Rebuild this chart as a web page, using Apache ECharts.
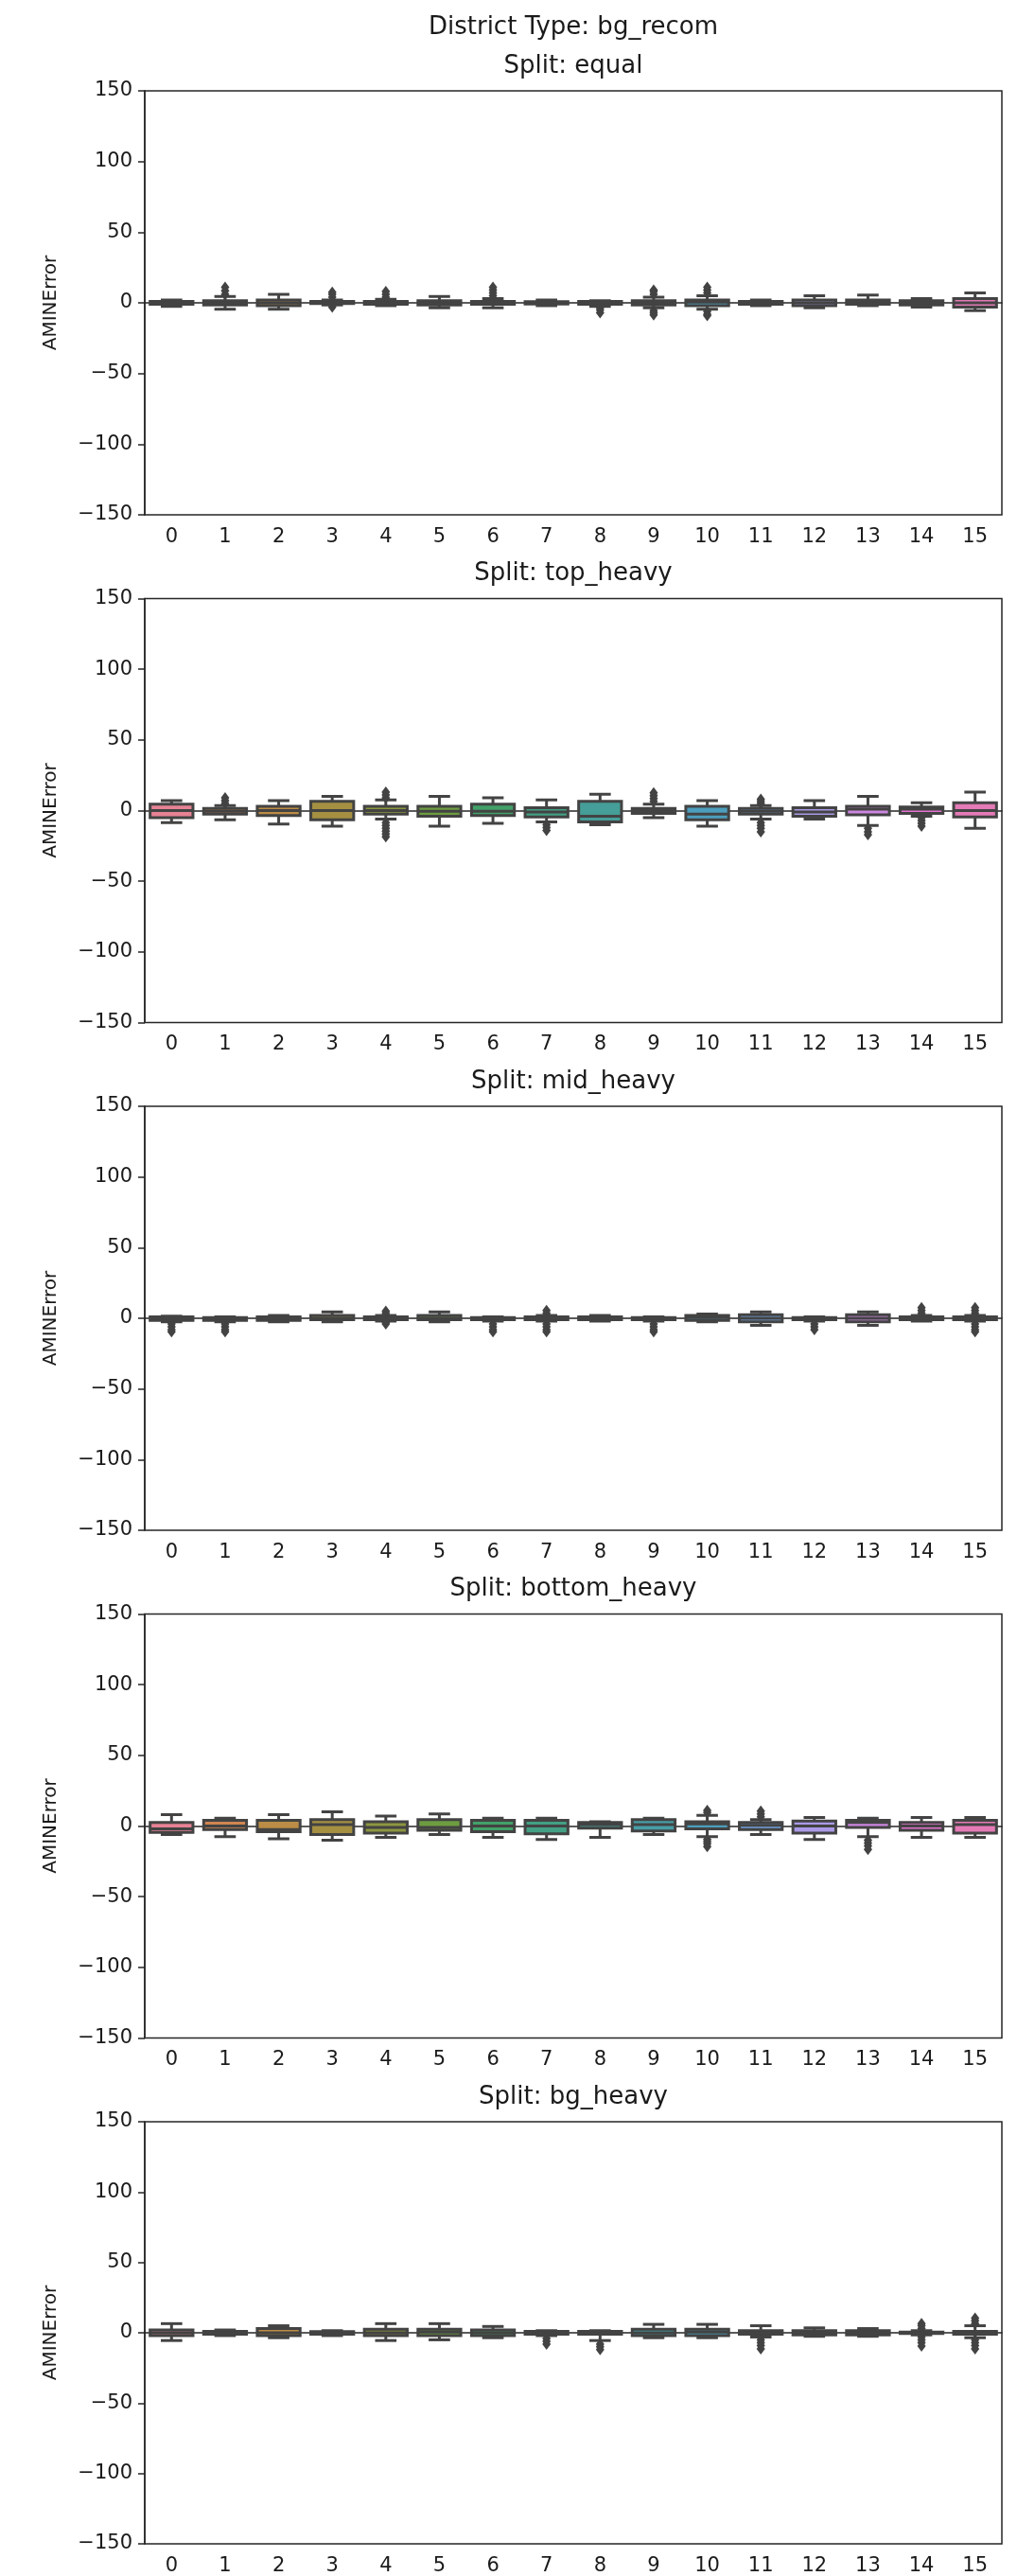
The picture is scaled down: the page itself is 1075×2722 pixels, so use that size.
<!DOCTYPE html>
<html>
<head>
<meta charset="utf-8">
<title>AMINError by district</title>
<script src="https://cdn.jsdelivr.net/npm/echarts@6.0.0/dist/echarts.min.js"></script>
<style>
  html, body { margin: 0; padding: 0; background: #fff; }
  #chart { width: 1075px; height: 2722px; }
</style>
</head>
<body>
<div id="chart"></div>
<script>
// ---- data -------------------------------------------------------------
const categories = ['0','1','2','3','4','5','6','7','8','9','10','11','12','13','14','15'];
const splits = ['equal', 'top_heavy', 'mid_heavy', 'bottom_heavy', 'bg_heavy'];
const yTicks = [-150, -100, -50, 0, 50, 100, 150];

// per category: [lower whisker, Q1, median, Q3, upper whisker]
const equalStats = [
  [-2.5, -1, 0, 1, 2], [-4.5, -1.5, 0, 1.5, 4.5], [-4.5, -2, 0, 2, 6], [-1.5, -0.5, 0, 1, 2],
  [-2, -1, 0, 1, 2.5], [-3.5, -1.5, 0, 1.5, 4.5], [-3.5, -1, 0, 1, 3], [-2, -0.8, 0, 0.8, 2],
  [-2.5, -1, 0, 1, 1.5], [-3.5, -1.5, 0, 1.5, 4], [-4.5, -2, 0.5, 2, 5], [-2, -1, 0, 1, 2],
  [-3.5, -2, 0, 2, 5], [-2, -1, 1, 2, 5.5], [-3, -1.5, 0, 1.5, 3], [-5.5, -3, 0, 3, 7]
];
// outliers: [category, value]
const equalFliers = [
  [1, 6], [1, 8.5], [1, 11], [3, 4], [3, 6], [3, 7.5], [3, -3], [4, 4], [4, 6], [4, 8],
  [6, 5], [6, 7], [6, 9], [6, 11], [8, -3.5], [8, -5], [8, -7],
  [9, 6], [9, 8], [9, 9], [9, -5.5], [9, -7], [9, -8.5],
  [10, 7], [10, 9], [10, 11], [10, -6], [10, -8], [10, -9]
];

const topHeavyStats = [
  [-8.5, -5, 0, 4.5, 7], [-6.5, -2.5, -0.5, 1.5, 3.5], [-9.5, -3.5, 0, 3, 7], [-11, -6.5, 0, 6.5, 10],
  [-6, -2.5, 0, 3, 7.5], [-11, -4, -0.5, 3, 10], [-9, -3.5, -0.5, 4.5, 9], [-8, -4.5, -1, 2, 7.5],
  [-10, -8, -4, 6.5, 11.5], [-5, -2, 0, 1.5, 4.5], [-11, -6.5, -2.5, 3, 7], [-6, -2.5, -0.5, 1.5, 3.5],
  [-6, -4, -1, 2, 7], [-10.5, -3, 1, 3, 10], [-4, -2, 1, 2.5, 5.5], [-12.5, -4.5, 0, 5.5, 13]
];
const topHeavyFliers = [
  [1, 5], [1, 7], [1, 9],
  [4, 9], [4, 11], [4, 13], [4, -8.5], [4, -10.5], [4, -12.5], [4, -14.5], [4, -16.5], [4, -18.5],
  [7, -10], [7, -12], [7, -14],
  [9, 6.5], [9, 8.5], [9, 10.5], [9, 12.5],
  [11, 5], [11, 6.5], [11, 8], [11, -8.5], [11, -10.5], [11, -12.5], [11, -15],
  [13, -12.5], [13, -15], [13, -17],
  [14, -5], [14, -7], [14, -9], [14, -11]
];

const midHeavyStats = [
  [-2.5, -1.5, 0, 1, 1.5], [-2.5, -1.5, 0, 0.5, 1], [-2.5, -1.5, 0, 1, 2], [-2.5, -1, 0, 2, 4.5],
  [-2, -1, 0, 1, 2], [-2.5, -1, 0, 2, 4.5], [-2, -1, 0, 0.5, 1], [-2, -1, 0, 1, 2],
  [-2, -1, 0, 1, 2], [-2, -1, 0, 0.5, 1], [-2.5, -1.5, 0.5, 2, 3], [-5, -2.5, 0, 2.5, 4.5],
  [-2, -1, 0, 0.5, 1], [-5, -2.5, 0, 2.5, 4.5], [-2, -1, 0, 1, 2], [-2, -1, 0, 1, 2]
];
const midHeavyFliers = [
  [0, -4], [0, -6], [0, -8], [0, -9.5], [1, -4], [1, -6], [1, -8], [1, -9.5],
  [4, 3.5], [4, 5], [4, -3], [4, -4],
  [6, -4], [6, -6], [6, -8], [6, -9.5],
  [7, 3.5], [7, 5.5], [7, -4], [7, -6], [7, -8], [7, -9.5],
  [9, -4], [9, -6], [9, -8], [9, -9.5],
  [12, -4], [12, -6], [12, -8],
  [14, 3.5], [14, 5.5], [14, 7.5],
  [15, 3.5], [15, 5.5], [15, 7.5], [15, -4], [15, -6], [15, -8], [15, -9.5]
];

const bottomHeavyStats = [
  [-6, -4.5, -2, 2.5, 8], [-7.5, -2.5, 0, 4, 5.5], [-9, -4, -2.5, 4, 8], [-10, -6, 1, 4.5, 10],
  [-8, -5, -1, 3, 7], [-6, -3, -1, 4.5, 8.5], [-8, -4, 0, 4, 5.5], [-9.5, -5.5, 0, 4, 5.5],
  [-8, -1.5, 1, 2.5, 3], [-6, -3.5, 1, 4.5, 5.5], [-7.5, -2, 1.5, 3, 7.5], [-6, -2.5, 0.5, 2.5, 4.5],
  [-9.5, -5, 0, 3.5, 6], [-7.5, -1, 2.5, 4, 5.5], [-8, -3, 0, 2.5, 6], [-8, -5, 1, 4, 6]
];
const bottomHeavyFliers = [
  [10, 9.5], [10, 11], [10, -9.5], [10, -11], [10, -12.5], [10, -14.5],
  [11, 6.5], [11, 8.5], [11, 10.5],
  [13, -10], [13, -12], [13, -14], [13, -16.5]
];

const bgHeavyStats = [
  [-5.5, -2, 0, 2, 6.5], [-2, -1, 0, 1, 2], [-3.5, -2, 0, 3, 5], [-2, -1, 0, 0.8, 1.5],
  [-5.5, -2, 0, 2.5, 6.5], [-5, -2, 0.5, 2.5, 6.5], [-3.5, -2, 0, 2, 4.5], [-2, -1, 0, 1, 1.5],
  [-5.5, -1, 0, 1, 1.5], [-3.5, -2, 0, 2.5, 6], [-3.5, -2, 0.5, 2.5, 6], [-3, -1, 0, 1.5, 5],
  [-2.5, -1.5, 0, 1.5, 3.5], [-2.5, -1.5, 0, 1.5, 3], [-1.5, -0.5, 0, 0.5, 1.5], [-3.5, -1, 0, 1, 5]
];
const bgHeavyFliers = [
  [7, -4], [7, -6], [7, -8],
  [8, -8], [8, -10], [8, -12],
  [11, -5], [11, -7], [11, -9], [11, -11.5],
  [14, 3], [14, 5], [14, 6.5], [14, -3], [14, -5], [14, -7], [14, -9.5],
  [15, 6.5], [15, 8.5], [15, 10.5], [15, -5], [15, -7], [15, -9], [15, -11.5]
];

const panelStats = [equalStats, topHeavyStats, midHeavyStats, bottomHeavyStats, bgHeavyStats];
const panelFliers = [equalFliers, topHeavyFliers, midHeavyFliers, bottomHeavyFliers, bgHeavyFliers];

// ---- styling ----------------------------------------------------------
// 16-step husl palette, then desaturated to 75% like seaborn box fills
const basePalette = [
  '#f77189', '#e7823a', '#ce9032', '#b69a31', '#97a431', '#6dac31', '#32b166', '#34af8a',
  '#36ada4', '#37abb7', '#39a7d0', '#5f9fec', '#a48cf4', '#d478ef', '#f561dd', '#f668b8'
];
function desaturate(hex, prop) {
  const r = parseInt(hex.slice(1, 3), 16) / 255;
  const g = parseInt(hex.slice(3, 5), 16) / 255;
  const b = parseInt(hex.slice(5, 7), 16) / 255;
  const mx = Math.max(r, g, b), mn = Math.min(r, g, b);
  const l = (mx + mn) / 2;
  let h = 0, s = 0;
  if (mx !== mn) {
    const d = mx - mn;
    s = l <= 0.5 ? d / (mx + mn) : d / (2 - mx - mn);
    const rc = (mx - r) / d, gc = (mx - g) / d, bc = (mx - b) / d;
    if (r === mx) h = bc - gc;
    else if (g === mx) h = 2 + rc - bc;
    else h = 4 + gc - rc;
    h = ((h / 6) % 1 + 1) % 1;
  }
  s *= prop;
  const m2 = l <= 0.5 ? l * (1 + s) : l + s - l * s;
  const m1 = 2 * l - m2;
  function v(hh) {
    hh = ((hh % 1) + 1) % 1;
    if (hh < 1 / 6) return m1 + (m2 - m1) * hh * 6;
    if (hh < 0.5) return m2;
    if (hh < 2 / 3) return m1 + (m2 - m1) * (2 / 3 - hh) * 6;
    return m1;
  }
  const out = s === 0 ? [l, l, l] : [v(h + 1 / 3), v(h), v(h - 1 / 3)];
  return '#' + out.map(c => Math.round(c * 255).toString(16).padStart(2, '0')).join('');
}
const boxColors = basePalette.map(c => desaturate(c, 0.75));
const lineGray = '#434343';
const textColor = '#1a1a1a';
const spineColor = '#262626';
const fontFamily = 'DejaVu Sans';
const tickFont = 21, titleFont = 26, labelFont = 20;

const gridLeft = 153, gridWidth = 906, gridHeight = 448, firstTop = 96, panelStep = 536.5;

function minusSign(v) { return String(v).replace('-', '\u2212'); }

function renderBox(params, api) {
  const xi = api.value(0);
  const pLo = api.coord([xi, api.value(1)]);
  const pQ1 = api.coord([xi, api.value(2)]);
  const pMed = api.coord([xi, api.value(3)]);
  const pQ3 = api.coord([xi, api.value(4)]);
  const pHi = api.coord([xi, api.value(5)]);
  const band = api.size([1, 0])[0];
  const w = band * 0.8, cw = w / 2, cx = pLo[0];
  const ls = { stroke: lineGray, lineWidth: 3 };
  return {
    type: 'group',
    children: [
      { type: 'line', shape: { x1: cx, y1: pQ1[1], x2: cx, y2: pLo[1] }, style: ls },
      { type: 'line', shape: { x1: cx, y1: pQ3[1], x2: cx, y2: pHi[1] }, style: ls },
      { type: 'line', shape: { x1: cx - cw / 2, y1: pLo[1], x2: cx + cw / 2, y2: pLo[1] }, style: ls },
      { type: 'line', shape: { x1: cx - cw / 2, y1: pHi[1], x2: cx + cw / 2, y2: pHi[1] }, style: ls },
      { type: 'rect', shape: { x: cx - w / 2, y: pQ3[1], width: w, height: pQ1[1] - pQ3[1] },
        style: { fill: boxColors[xi], stroke: lineGray, lineWidth: 3 } },
      { type: 'line', shape: { x1: cx - w / 2, y1: pMed[1], x2: cx + w / 2, y2: pMed[1] }, style: ls }
    ]
  };
}

const grids = [], xAxes = [], yAxes = [], series = [], texts = [];
const centerX = gridLeft + gridWidth / 2;
texts.push({
  type: 'text', x: centerX, y: 29,
  style: { text: 'District Type: bg_recom', align: 'center', verticalAlign: 'middle',
    font: titleFont + 'px "' + fontFamily + '"', fill: textColor }
});
splits.forEach((name, i) => {
  const top = firstTop + panelStep * i;
  grids.push({ left: gridLeft, top, width: gridWidth, height: gridHeight, show: true,
    borderColor: spineColor, borderWidth: 1.5, backgroundColor: 'transparent' });
  texts.push({
    type: 'text', x: centerX, y: top - 26,
    style: { text: 'Split: ' + name, align: 'center', verticalAlign: 'middle',
      font: titleFont + 'px "' + fontFamily + '"', fill: textColor }
  });
  xAxes.push({
    type: 'category', gridIndex: i, data: categories, boundaryGap: true,
    axisLine: { lineStyle: { color: spineColor, width: 1.5 } },
    axisTick: { alignWithLabel: true, length: 7, lineStyle: { color: spineColor, width: 1.5 } },
    axisLabel: { color: textColor, fontFamily, fontSize: tickFont, margin: 13, interval: 0 },
    splitLine: { show: false }
  });
  yAxes.push({
    type: 'value', gridIndex: i, min: -150, max: 150, interval: 50,
    name: 'AMINError', nameLocation: 'middle', nameGap: 89,
    nameTextStyle: { fontFamily, fontSize: labelFont, color: textColor },
    axisLine: { show: true, lineStyle: { color: spineColor, width: 1.5 } },
    axisTick: { show: true, length: 7, lineStyle: { color: spineColor, width: 1.5 } },
    axisLabel: { color: textColor, fontFamily, fontSize: tickFont, margin: 13,
      customValues: yTicks, formatter: minusSign },
    splitLine: { show: false }
  });
  series.push({
    type: 'custom', xAxisIndex: i, yAxisIndex: i, renderItem: renderBox, clip: true,
    encode: { x: 0, y: [1, 2, 3, 4, 5] },
    data: panelStats[i].map((s, k) => [k].concat(s)),
    z: 2
  });
  series.push({
    type: 'scatter', xAxisIndex: i, yAxisIndex: i, symbol: 'diamond', symbolSize: [9, 12],
    itemStyle: { color: lineGray, opacity: 1 }, data: panelFliers[i], z: 3, silent: true
  });
});

const chart = echarts.init(document.getElementById('chart'), null, { renderer: 'canvas' });
chart.setOption({
  animation: false,
  backgroundColor: '#ffffff',
  graphic: { elements: texts },
  grid: grids,
  xAxis: xAxes,
  yAxis: yAxes,
  series
});
</script>
</body>
</html>
